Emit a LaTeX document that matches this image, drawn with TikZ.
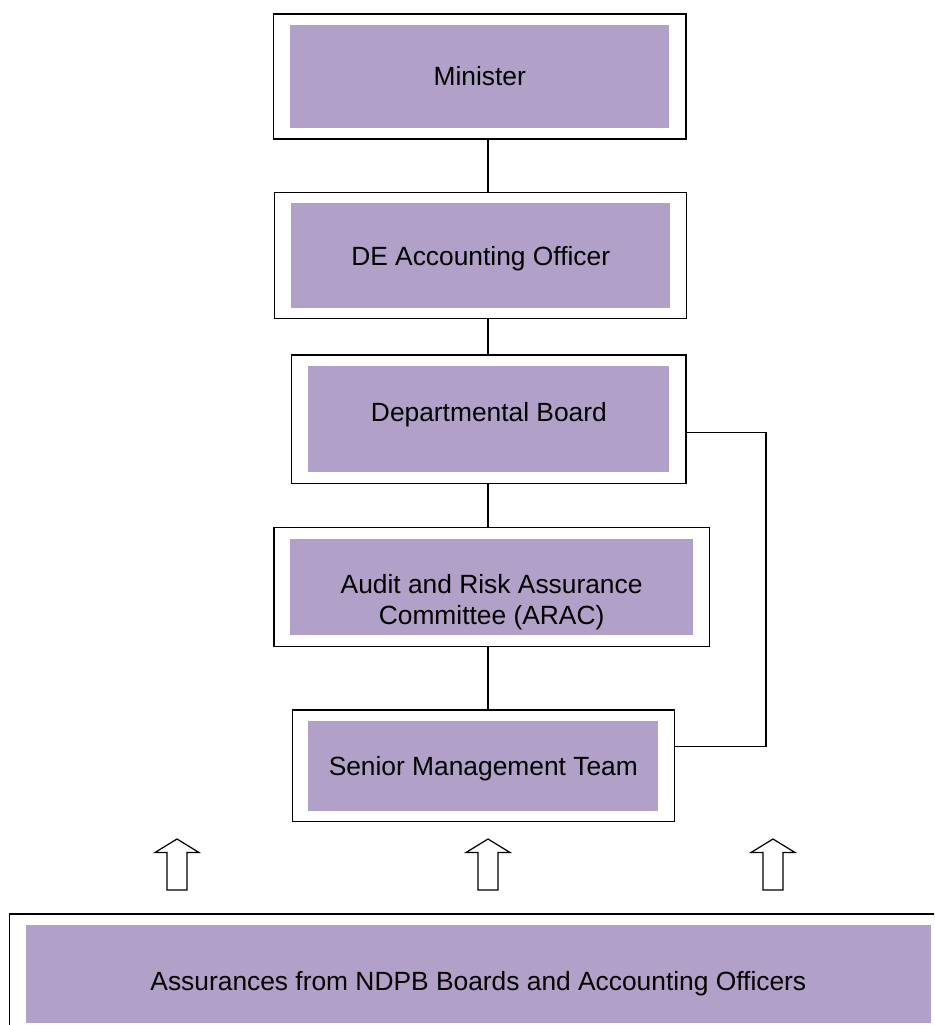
\documentclass[tikz,border=0pt]{standalone}
\usepackage{fontspec}
\setmainfont{Liberation Sans}
\usetikzlibrary{calc}
\definecolor{lilac}{RGB}{177,160,199}
\newcommand{\lift}[2]{\raisebox{#1}[\height][\depth]{#2}}
\tikzset{
    outer box/.style = {
        draw,
        line width=0.8pt,
        inner sep=0pt,
        outer sep=0pt,
        },
    purple box/.style = {
        fill = lilac,
        inner sep=0pt,
        outer sep=0pt,
        font=\fontsize{15}{17.5}\selectfont,
        },
    link/.style = {
        draw,
        line width=0.7pt,
        },
    assurance arrow/.pic = {
        \draw[line width=0.7pt, fill=white]
            (-10,0) -- (-10,-37.5) -- (-22,-37.5) -- (0,-51)
            -- (22,-37.5) -- (10,-37.5) -- (10,0) -- cycle;
        },
}
\begin{document}
\begin{tikzpicture}[x=0.02cm, y=-0.02cm]
    \useasboundingbox (0,0) rectangle (934,1025);
    \clip (0,0) rectangle (934,1025);

    % Minister
    \node [outer box, minimum width=8.25cm, minimum height=2.5cm] (minister box) at (479.7,76.5) {};
    \node [purple box, minimum width=7.58cm, minimum height=2.08cm] (minister) at (minister box) {Minister};

    % DE Accounting Officer
    \node [outer box, minimum width=8.24cm, minimum height=2.52cm] (deao box) at (480.7,255.7) {};
    \node [purple box, minimum width=7.57cm, minimum height=2.09cm] (deao) at (deao box) {\lift{-1.5pt}{DE Accounting Officer}};

    % Departmental Board
    \node [outer box, minimum width=7.89cm, minimum height=2.57cm] (board box) at (488.9,419.2) {};
    \node [purple box, minimum width=7.22cm, minimum height=2.13cm] (board) at (board box) {\lift{2.5pt}{Departmental Board}};

    % ARAC
    \node [outer box, minimum width=8.71cm, minimum height=2.38cm] (arac box) at (491.6,587.2) {};
    \node [purple box, minimum width=8.06cm, minimum height=1.93cm] (arac) at (arac box)
        {\lift{-9pt}{\begin{tabular}{@{}c@{}}Audit and Risk Assurance\\Committee (ARAC)\end{tabular}}};

    % Senior Management Team
    \node [outer box, minimum width=7.64cm, minimum height=2.23cm] (smt box) at (483.3,765.9) {};
    \node [purple box, minimum width=7.00cm, minimum height=1.81cm] (smt) at (smt box) {\lift{-1.5pt}{Senior Management Team}};

    % NDPB assurances
    \node [outer box, minimum width=18.76cm, minimum height=2.39cm] (ndpb box) at (478.35,973.85) {};
    \node [purple box, minimum width=18.09cm, minimum height=1.95cm] (ndpb) at (ndpb box)
        {\lift{-5.5pt}{Assurances from NDPB Boards and Accounting Officers}};

    \coordinate (spine) at (488,0);
    \coordinate (side top) at (766,432.7);
    \coordinate (side bottom) at (766,746.7);

    \draw[link] (minister box.south -| spine) -- (deao box.north -| spine);
    \draw[link] (deao box.south -| spine) -- (board box.north -| spine);
    \draw[link] (board box.south -| spine) -- (arac box.north -| spine);
    \draw[link] (arac box.south -| spine) -- (smt box.north -| spine);

    \draw[link] (board box.east |- side top) -- (side top) -- (side bottom) -- (smt box.east |- side bottom);

    % arrows up from the NDPBs
    \pic (arrow left) at (177,890) {assurance arrow};
    \pic (arrow mid) at (488,890) {assurance arrow};
    \pic (arrow right) at (773,890) {assurance arrow};
\end{tikzpicture}
\end{document}
